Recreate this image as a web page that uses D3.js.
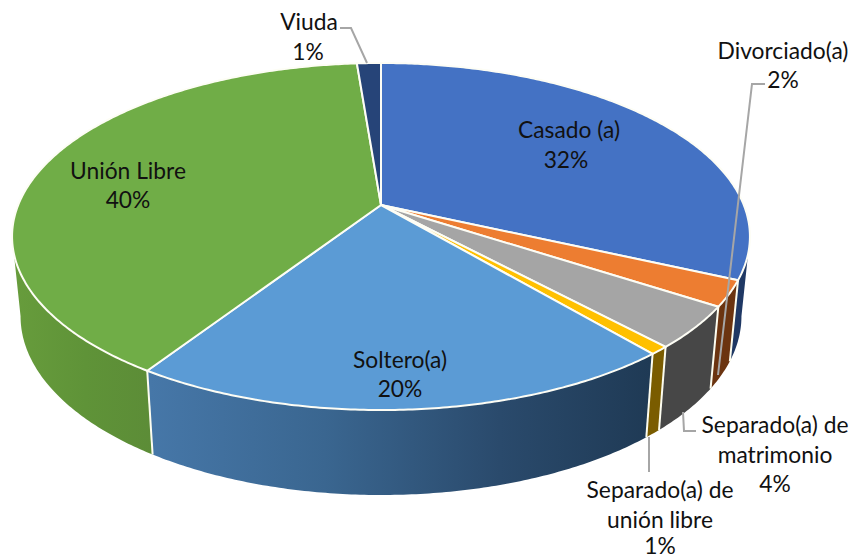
<!DOCTYPE html>
<html><head><meta charset="utf-8">
<script src="https://cdn.jsdelivr.net/npm/d3@7"></script>
<style>html,body{margin:0;padding:0;background:#fff;overflow:hidden}svg{display:block}</style>
</head><body><div id="chart"></div>
<script>
const categories = ["Casado (a)","Divorciado(a)","Separado(a) de matrimonio","Separado(a) de unión libre","Soltero(a)","Unión Libre","Viuda"];
const values = [31.8,2.4,3.9,0.75,20.35,39.55,1.25];
const topColors = ["#4472c4","#ed7d31","#a5a5a5","#ffc000","#5b9bd5","#70ad47","#264478"];
const wallColors = ["#1f3864","#6b3410","#474747","#7a5c00","url(#wallBlue)","url(#wallGreen)","#1f3864"];

const W = 852, H = 559;
// perspective model of the pie disc
const cx = 381, cy = 205, A = 362.8, B = 167.8, P = 0.1816;
const floorSX = 0.977, floorSY = 1.03, floorY = 283.8;
const visibleFrom = Math.PI - Math.acos(P), visibleTo = Math.PI + Math.acos(P);

const labelLayout = [
  {i:0, x:[569,566], y:[130,160]},
  {i:1, x:[783,783], y:[51,80]},
  {i:2, x:[775,775,775], y:[425,455,484], lines:["Separado(a) de","matrimonio"]},
  {i:3, x:[660,660,660], y:[490,520,546], lines:["Separado(a) de","unión libre"]},
  {i:4, x:[400,400], y:[360,389]},
  {i:5, x:[128,128], y:[171,200]},
  {i:6, x:[309,308], y:[22,52]}
];
const leaders = [
  [[340,28],[351,28],[367,63]],
  [[765,84],[752,84],[718,375]],
  [[696,431],[684,431],[683,412]],
  [[649,437],[649,472]]
];

const topPt = t => { const u=Math.sin(t), v=-Math.cos(t), w=1-P*v; return [cx+A*u/w, cy+B*v/w]; };
const floorPt = t => { const [x,y]=topPt(t); return [cx+(x-cx)*floorSX, floorY+(y-cy)*floorSY]; };
const arcPts = (a,b,f) => { const n=Math.max(2,Math.ceil((b-a)/0.01)); return d3.range(n+1).map(k=>f(a+(b-a)*k/n)); };

const svg = d3.select("#chart").append("svg").attr("width",W).attr("height",H);
const defs = svg.append("defs");
function grad(id,x1,x2,stops){
  const g=defs.append("linearGradient").attr("id",id).attr("gradientUnits","userSpaceOnUse")
    .attr("x1",x1).attr("x2",x2).attr("y1",0).attr("y2",0);
  stops.forEach(s=>g.append("stop").attr("offset",s[0]).attr("stop-color",s[1]));
}
grad("wallBlue",150,650,[[0,"#4677a8"],[0.35,"#3a6690"],[0.7,"#2a4a6c"],[1,"#1f3a55"]]);
grad("wallGreen",15,155,[[0,"#679c3c"],[0.5,"#5f9338"],[1,"#5c8c37"]]);

const arcs = d3.pie().sort(null).startAngle(0).endAngle(2*Math.PI)(values);
const line = d3.line();
const frontArcs = arcs.filter(d=>d.startAngle<visibleTo && d.endAngle>visibleFrom);

// side walls, clipped to the visible front of the disc
svg.append("g").selectAll("path").data(frontArcs).join("path")
  .attr("d",d=>{
    const a=Math.max(d.startAngle,visibleFrom), b=Math.min(d.endAngle,visibleTo);
    return line(arcPts(a,b,topPt).concat(arcPts(a,b,floorPt).reverse()))+"Z";
  })
  .attr("fill",d=>wallColors[d.index]);
// wall separators
svg.append("g").selectAll("line").data(arcs.filter(d=>d.startAngle>visibleFrom&&d.startAngle<visibleTo)).join("line")
  .attr("x1",d=>topPt(d.startAngle)[0]).attr("y1",d=>topPt(d.startAngle)[1])
  .attr("x2",d=>floorPt(d.startAngle)[0]).attr("y2",d=>floorPt(d.startAngle)[1])
  .attr("stroke","#fdfdf0").attr("stroke-width",2);
// top faces
svg.append("g").selectAll("path").data(arcs).join("path")
  .attr("d",d=>line([[cx,cy]].concat(arcPts(d.startAngle,d.endAngle,topPt)))+"Z")
  .attr("fill",d=>topColors[d.index])
  .attr("stroke","#fdfdf5").attr("stroke-width",2).attr("stroke-linejoin","round");
// leaders
svg.append("g").selectAll("path").data(leaders).join("path")
  .attr("d",d=>line(d)).attr("fill","none").attr("stroke","#a6a6a6").attr("stroke-width",2);
// labels
const tg = svg.append("g").attr("font-family","Lato, 'Open Sans', sans-serif").attr("font-size",22.8).attr("fill","#111").attr("text-anchor","middle");
labelLayout.forEach(l=>{
  const lines=(l.lines||[categories[l.i]]).concat(Math.round(values[l.i])+"%");
  lines.forEach((s,k)=>tg.append("text").attr("x",l.x[k]).attr("y",l.y[k]).attr("dy","0.35em").text(s));
});
</script></body></html>
